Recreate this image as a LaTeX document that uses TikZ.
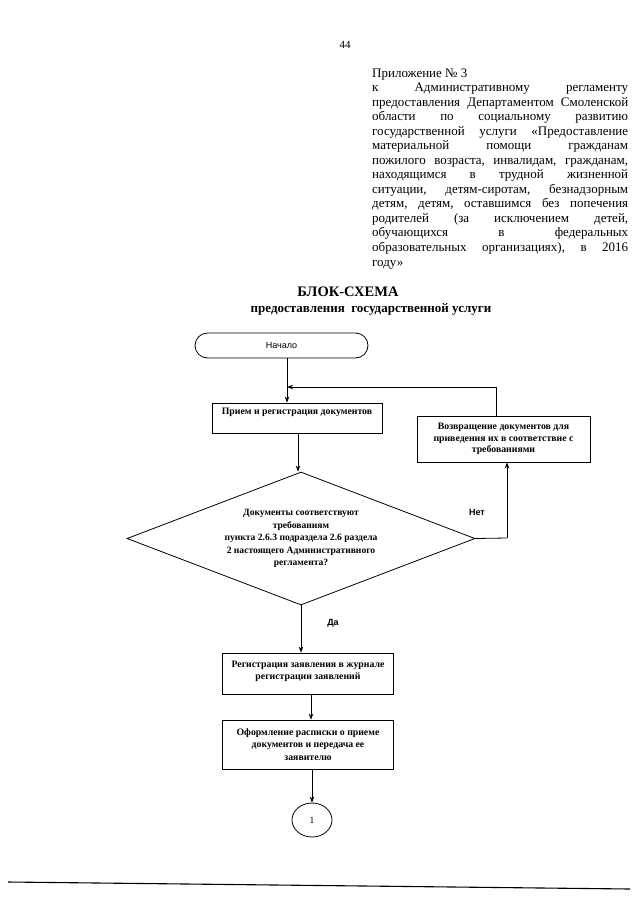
\documentclass[tikz,border=0pt]{standalone}
\usepackage{fontspec}
\setmainfont{Liberation Serif}
\newfontfamily\arialf{Liberation Sans}
\usetikzlibrary{shapes.geometric,arrows.meta}
\newcommand\jsp{\hskip 2.5pt plus 1fill\relax}
\newcommand\jl[1]{\hbox to 256pt{#1}}
\begin{document}
\begin{tikzpicture}[x=1pt,y=-1pt,
  hdr/.style={anchor=base west,inner sep=0pt,font=\fontsize{13}{14.5}\selectfont},
  box/.style={draw,line width=0.8pt,inner sep=2pt,align=center,font=\bfseries\fontsize{9.8}{12}\selectfont},
  arr/.style={line width=0.8pt,-{Stealth[length=6pt,width=4.5pt]}},
  ln/.style={line width=0.8pt},
  lbl/.style={font=\arialf\bfseries\fontsize{9}{10}\selectfont,inner sep=0pt}]
\useasboundingbox[fill=white] (0,0) rectangle (640,905);

\node[font=\fontsize{11}{12}\selectfont,inner sep=0pt] (pg) at (345,45) {44};

\node[hdr] (h1) at (372,77) {Приложение № 3};
\node[hdr] (h2) at (372,91.5) {\jl{к\jsp Административному\jsp регламенту}};
\node[hdr] (h3) at (372,106) {\jl{предоставления\jsp Департаментом\jsp Смоленской}};
\node[hdr] (h4) at (372,120.6) {\jl{области\jsp по\jsp социальному\jsp развитию}};
\node[hdr] (h5) at (372,135.2) {\jl{государственной\jsp услуги\jsp «Предоставление}};
\node[hdr] (h6) at (372,149.7) {\jl{материальной\jsp помощи\jsp гражданам}};
\node[hdr] (h7) at (372,164.2) {\jl{пожилого\jsp возраста,\jsp инвалидам,\jsp гражданам,}};
\node[hdr] (h8) at (372,178.8) {\jl{находящимся\jsp в\jsp трудной\jsp жизненной}};
\node[hdr] (h9) at (372,193.3) {\jl{ситуации,\jsp детям-сиротам,\jsp безнадзорным}};
\node[hdr] (h10) at (372,207.8) {\jl{детям,\jsp детям,\jsp оставшимся\jsp без\jsp попечения}};
\node[hdr] (h11) at (372,222.4) {\jl{родителей\jsp (за\jsp исключением\jsp детей,}};
\node[hdr] (h12) at (372,236.9) {\jl{обучающихся\jsp в\jsp федеральных}};
\node[hdr] (h13) at (372,251.5) {\jl{образовательных\jsp организациях),\jsp в\jsp 2016}};
\node[hdr] (h14) at (372,266) {году»};

\node[font=\bfseries\fontsize{14.5}{16}\selectfont,inner sep=0pt,anchor=base] (t1) at (348,296) {БЛОК-СХЕМА};
\node[font=\bfseries\fontsize{13}{14}\selectfont,inner sep=0pt,anchor=base] (t2) at (371,312) {предоставления\ \ государственной услуги};

\node[draw,line width=0.8pt,rounded corners=12.5pt,minimum width=173pt,minimum height=25pt,font=\arialf\fontsize{9}{10}\selectfont] (start) at (281.5,345.5) {Начало};

\node[box,minimum width=170pt,minimum height=30pt] (recv) at (297,418) {Прием и регистрация документов\\[-3pt]\strut};
\node[box,minimum width=173pt,minimum height=46pt,font=\bfseries\fontsize{9.8}{11.5}\selectfont] (ret) at (503.5,439) {Возвращение документов для\\приведения их в соответствие с\\требованиями};
\node[draw,line width=0.8pt,diamond,aspect=2.6,minimum width=348pt,minimum height=133pt,inner sep=0pt,align=center,font=\bfseries\fontsize{9.6}{12.5}\selectfont] (dec) at (301,538.5) {Документы соответствуют\\требованиям\\пункта 2.6.3 подраздела 2.6 раздела\\2 настоящего Административного\\регламента?};
\node[box,minimum width=171pt,minimum height=41pt] (reg) at (308,673.5) {Регистрация заявления в журнале\\регистрации заявлений\\[-6pt]\mbox{}};
\node[box,minimum width=171pt,minimum height=49pt,font=\bfseries\fontsize{9.8}{12.5}\selectfont] (form) at (308,744.5) {Оформление расписки о приеме\\документов и передача ее\\заявителю};
\node[draw,line width=0.8pt,ellipse,minimum width=40pt,minimum height=34pt,inner sep=0pt,font=\fontsize{9.5}{11}\selectfont] (conn) at (312,820) {1};

\node[lbl] (no) at (477,512) {Нет};
\node[lbl] (yes) at (333,623) {Да};

\coordinate (j1) at (287,387);
\coordinate (j2) at (496,387);
\coordinate (r1) at (507,538);

\draw[ln] (start.south -| j1) -- (j1);
\draw[arr] (j1) -- (j1 |- recv.north);
\draw[ln] (ret.north -| j2) -- (j2);
\draw[arr] (j2) -- (j1);
\draw[arr] (recv.south -| 298,0) -- (dec.north -| 298,0);
\draw[ln] (dec.east) -- (r1);
\draw[arr] (r1) -- (r1 |- ret.south);
\draw[arr] (dec.south) -- (dec.south |- reg.north);
\draw[arr] (reg.south -| 311,0) -- (form.north -| 311,0);
\draw[arr] (form.south -| conn.north) -- (conn.north);

\coordinate (b1) at (8,882);
\coordinate (b2) at (630,889);
\draw[line width=1.1pt] (b1) -- (b2);
\end{tikzpicture}
\end{document}
